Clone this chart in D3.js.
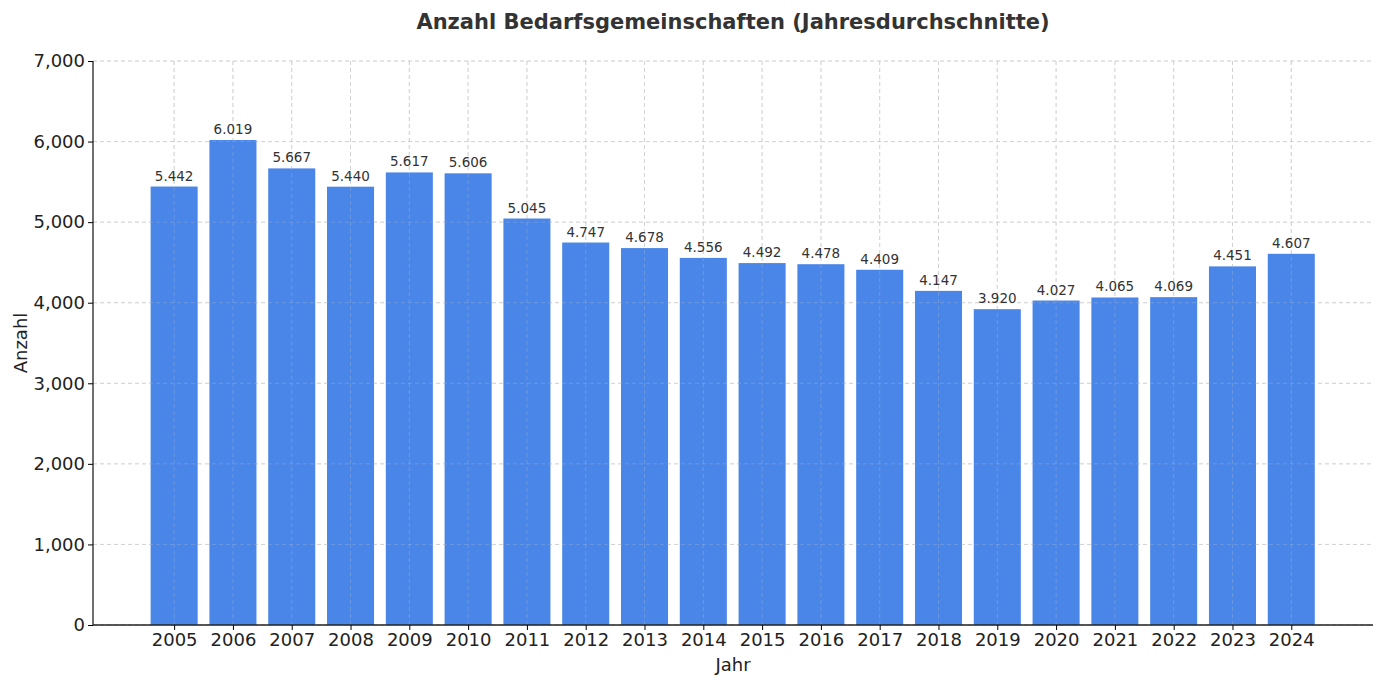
<!DOCTYPE html>
<html><head><meta charset="utf-8">
<script src="https://cdn.jsdelivr.net/npm/d3@7"></script>
<style>body{margin:0;background:#fff;font-family:"DejaVu Sans",sans-serif;}</style>
</head><body>
<svg id="c" width="1385" height="687"></svg>
<script>
const years=[2005,2006,2007,2008,2009,2010,2011,2012,2013,2014,2015,2016,2017,2018,2019,2020,2021,2022,2023,2024];
const values=[5442,6019,5667,5440,5617,5606,5045,4747,4678,4556,4492,4478,4409,4147,3920,4027,4065,4069,4451,4607];
const yTicks=[0,1000,2000,3000,4000,5000,6000,7000];
const fmt=v=>d3.format(",")(v).replace(/,/g,".");
const svg=d3.select("#c");
const L=93,R=1373,T=61,B=625;
const x=d3.scaleLinear().domain([2005-1.38,2024+1.39]).range([L,R]);
const y=d3.scaleLinear().domain([0,7000]).range([B,T]);
const bw=(x(1)-x(0))*0.8;
const g=svg.append("g");
// grid
g.selectAll(".gy").data(yTicks).enter().append("line").attr("x1",L).attr("x2",R).attr("y1",d=>y(d)).attr("y2",d=>y(d)).attr("stroke","#ccc").attr("stroke-dasharray","4,3").attr("stroke-width",0.8);
g.selectAll(".gx").data(years).enter().append("line").attr("x1",d=>x(d)).attr("x2",d=>x(d)).attr("y1",T).attr("y2",B).attr("stroke","#ccc").attr("stroke-dasharray","4,3").attr("stroke-width",0.8);
// bars
g.selectAll(".b").data(values).enter().append("rect").attr("x",(d,i)=>x(years[i])-bw/2).attr("width",bw).attr("y",d=>y(d)).attr("height",d=>B-y(d)).attr("fill","#4a86e8");
// grid over bars (matplotlib draws grid above? show faint)
g.selectAll(".gx2").data(years).enter().append("line").attr("x1",d=>x(d)).attr("x2",d=>x(d)).attr("y1",T).attr("y2",B).attr("stroke","rgba(200,200,200,0.35)").attr("stroke-dasharray","4,3").attr("stroke-width",0.8);
g.selectAll(".gy2").data(yTicks).enter().append("line").attr("x1",L).attr("x2",R).attr("y1",d=>y(d)).attr("y2",d=>y(d)).attr("stroke","rgba(200,200,200,0.35)").attr("stroke-dasharray","4,3").attr("stroke-width",0.8);
// labels
g.selectAll(".l").data(values).enter().append("text").attr("x",(d,i)=>x(years[i])).attr("y",d=>y(d)-6).attr("text-anchor","middle").attr("font-size",13.5).attr("fill","#333").text(fmt);
// axes
const ax=svg.append("g").attr("transform",`translate(0,${B})`).call(d3.axisBottom(x).tickValues(years).tickFormat(d3.format("d")).tickSize(5));
const ay=svg.append("g").attr("transform",`translate(${L},0)`).call(d3.axisLeft(y).tickValues(yTicks).tickSize(5));
[ax,ay].forEach(a=>{a.selectAll("text").attr("font-size",18).attr("fill","#222").attr("font-family","DejaVu Sans");a.select(".domain").attr("stroke","#222").attr("stroke-width",1.3);});
ax.select(".domain").attr("d",`M${L},0H${R}`);
ay.select(".domain").attr("d",`M0,${B}V${T}`);
svg.append("text").attr("x",733).attr("y",29).attr("text-anchor","middle").attr("font-size",21).attr("font-weight","bold").attr("fill","#333").text("Anzahl Bedarfsgemeinschaften (Jahresdurchschnitte)");
svg.append("text").attr("x",733).attr("y",671).attr("text-anchor","middle").attr("font-size",18).attr("fill","#222").text("Jahr");
svg.append("text").attr("transform","translate(27,343) rotate(-90)").attr("text-anchor","middle").attr("font-size",18).attr("fill","#222").text("Anzahl");
</script></body></html>
